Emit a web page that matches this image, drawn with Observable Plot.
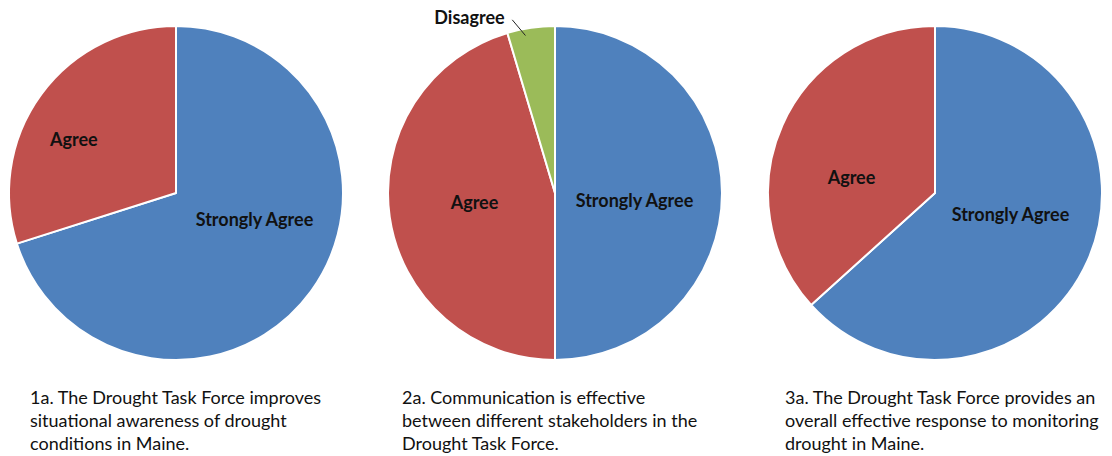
<!DOCTYPE html>
<html>
<head>
<meta charset="utf-8">
<script src="https://cdn.jsdelivr.net/npm/d3@7"></script>
<script src="https://cdn.jsdelivr.net/npm/@observablehq/plot@0.6"></script>
<style>
  html, body { margin: 0; padding: 0; background: #fff; }
  #wrap { position: relative; width: 1112px; height: 456px; overflow: hidden; }
  .pie { position: absolute; top: 0; }
  .cap { position: absolute; top: 386px; font-family: Lato, "Open Sans", sans-serif; font-size: 18px; line-height: 23px; color: #111; white-space: nowrap; }
</style>
</head>
<body>
<div id="wrap"></div>
<script>
// ---- data ----
const categories = ["Strongly Agree", "Agree", "Disagree"];
const colors = ["#4F81BD", "#C0504D", "#9BBB59"];
const q1Values = [70.1, 29.9, 0];
const q2Values = [50.0, 45.4, 4.6];
const q3Values = [63.3, 36.7, 0];
const captions1 = ["1a. The Drought Task Force improves", "situational awareness of drought", "conditions in Maine."];
const captions2 = ["2a. Communication is effective", "between different stakeholders in the", "Drought Task Force."];
const captions3 = ["3a. The Drought Task Force provides an", "overall effective response to monitoring", "drought in Maine."];

// ---- layout (unit-circle coordinates for labels, pixel layout for panels) ----
const R = 167;
const panels = [
  {values: q1Values, captions: captions1, cx: 176, capX: 30,
   labels: [{label: "Strongly Agree", x: 0.467, y: -0.162}, {label: "Agree", x: -0.615, y: 0.317}]},
  {values: q2Values, captions: captions2, cx: 555, capX: 402,
   labels: [{label: "Strongly Agree", x: 0.473, y: -0.048}, {label: "Agree", x: -0.485, y: -0.060}, {label: "Disagree", x: -0.515, y: 1.048}],
   leader: [{x1: -0.259, y1: 1.040, x2: -0.180, y2: 0.946}]},
  {values: q3Values, captions: captions3, cx: 935, capX: 785,
   labels: [{label: "Strongly Agree", x: 0.449, y: -0.132}, {label: "Agree", x: -0.503, y: 0.090}]}
];

const color = Plot.scale({color: {type: "ordinal", domain: categories, range: colors}});
const labelFont = 'Lato, "Open Sans", sans-serif';

function pieSlices(rows) {
  return (index, scales, values, dims) => {
    const cx = scales.x(0), cy = scales.y(0);
    const r = scales.x(1) - scales.x(0);
    const arcs = d3.pie().sort(null).value(d => d.value)(rows.filter(d => d.value > 0));
    const g = d3.create("svg:g").attr("transform", `translate(${cx},${cy})`);
    g.selectAll("path").data(arcs).join("path")
      .attr("d", d3.arc().innerRadius(0).outerRadius(r))
      .attr("fill", d => color.apply(d.data.category))
      .attr("stroke", "#fff")
      .attr("stroke-width", 2)
      .attr("stroke-linejoin", "round");
    return g.node();
  };
}

const wrap = document.getElementById("wrap");
const mTop = 26, mSide = 8, mBottom = 4;
for (const p of panels) {
  const rows = categories.map((c, i) => ({category: c, value: p.values[i]}));
  const marks = [
    pieSlices(rows),
    Plot.text(p.labels, {x: "x", y: "y", text: "label", fill: "#111", fontWeight: "bold", fontSize: 18, fontFamily: labelFont})
  ];
  if (p.leader) marks.push(Plot.link(p.leader, {x1: "x1", y1: "y1", x2: "x2", y2: "y2", stroke: "#222", strokeWidth: 1}));
  const chart = Plot.plot({
    width: 2 * R + 2 * mSide,
    height: 2 * R + mTop + mBottom,
    marginTop: mTop, marginBottom: mBottom, marginLeft: mSide, marginRight: mSide,
    x: {domain: [-1, 1], axis: null},
    y: {domain: [-1, 1], axis: null},
    style: {background: "transparent", overflow: "visible"},
    marks
  });
  chart.classList.add("pie");
  chart.style.left = (p.cx - R - mSide) + "px";
  wrap.appendChild(chart);

  const cap = document.createElement("div");
  cap.className = "cap";
  cap.style.left = p.capX + "px";
  p.captions.forEach((line, i) => {
    if (i) cap.appendChild(document.createElement("br"));
    cap.appendChild(document.createTextNode(line));
  });
  wrap.appendChild(cap);
}
</script>
</body>
</html>
